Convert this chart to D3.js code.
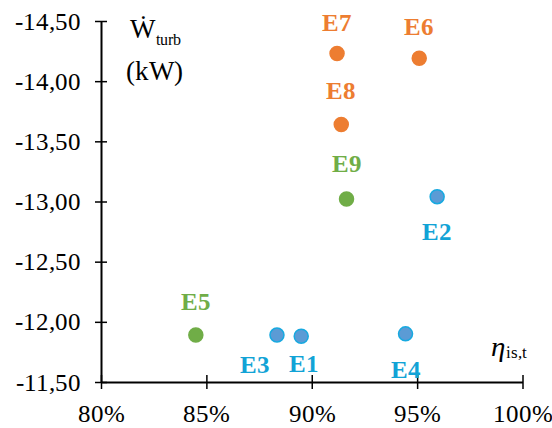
<!DOCTYPE html>
<html><head><meta charset="utf-8">
<script src="https://cdn.jsdelivr.net/npm/d3@7"></script>
<style>
@font-face{font-family:"CS";src:local("Liberation Serif"),local("LiberationSerif"),local("LiberationSerif-Regular");font-weight:400;font-style:normal}
@font-face{font-family:"CS";src:local("Liberation Serif Bold"),local("LiberationSerif-Bold");font-weight:700;font-style:normal}
@font-face{font-family:"CS";src:local("Liberation Serif Italic"),local("LiberationSerif-Italic");font-weight:400;font-style:italic}
body{margin:0;background:#fff}svg{display:block}
svg text, svg tspan{font-family:"CS","Liberation Serif","Times New Roman",serif !important}
</style>
</head><body><svg id="c" width="552" height="428"></svg>
<script>
const names = ["E1","E2","E3","E4","E5","E6","E7","E8","E9"];
const groups = ["blue","blue","blue","blue","green","orange","orange","orange","green"];
const efficiency = [89.5, 95.95, 88.35, 94.45, 84.5, 95.1, 91.2, 91.4, 91.65];
const power = [-11.88, -13.04, -11.89, -11.90, -11.89, -14.19, -14.23, -13.64, -13.02];
const xTicks = [80, 85, 90, 95, 100];
const yTicks = [-11.5, -12, -12.5, -13, -13.5, -14, -14.5];

// layout-only label offsets (px)
const labelDx = [3, 0, -22, 0, 0, 0, 0, 0, 0];
const labelDy = [36, 43, 38, 44, -25, -23, -22, -25, -27];

const fill = {blue:"#5B9BD5", green:"#70AD47", orange:"#ED7D31"};
const stroke = {blue:"#17A9E0", green:"#70AD47", orange:"#ED7D31"};
const lab = {blue:"#12A3D6", green:"#70AD47", orange:"#ED7D31"};
const FF = "CS, 'Liberation Serif', 'Times New Roman', serif";

const svg = d3.select("#c");
const x = d3.scaleLinear().domain([80,100]).range([101,522.5]);
const y = d3.scaleLinear().domain([-11.5,-14.5]).range([382,21]);

const fmtY = d => d3.format(".2f")(d).replace("\u2212", "-").replace(".", ",");
const yAxis = d3.axisLeft(y).tickValues(yTicks).tickFormat(fmtY).tickSize(0).tickPadding(20);
const gy = svg.append("g").attr("transform","translate(101,0)").call(yAxis);
gy.attr("font-family", null).attr("font-size", null);
gy.select(".domain").attr("stroke","#000").attr("stroke-width",2);
gy.selectAll("text").style("font-family",FF).style("font-size","25px").style("fill","#000");
gy.selectAll(".tick").append("line").attr("x1",-6).attr("x2",6).attr("stroke","#000").attr("stroke-width",1.5);

const xAxis = d3.axisBottom(x).tickValues(xTicks).tickFormat(d => d + "%").tickSize(0).tickPadding(22);
const gx = svg.append("g").attr("transform","translate(0,382)").call(xAxis);
gx.attr("font-family", null).attr("font-size", null);
gx.select(".domain").attr("stroke","#000").attr("stroke-width",2);
gx.selectAll("text").style("font-family",FF).style("font-size","25px").style("fill","#000");
gx.selectAll(".tick").append("line").attr("y1",-7).attr("y2",7).attr("stroke","#000").attr("stroke-width",1.5);

// titles
const t1 = svg.append("text").attr("x",130).attr("y",38).style("font-family",FF).style("font-size","27px");
t1.append("tspan").text("Ẇ");
t1.append("tspan").style("font-size","16px").attr("dy",7).attr("dx",1).text("turb");
svg.append("text").attr("x",126).attr("y",80).style("font-family",FF).style("font-size","27px").text("(kW)");
const t2 = svg.append("text").attr("x",491).attr("y",356).style("font-family",FF).style("font-size","29px");
t2.append("tspan").style("font-style","italic").text("η");
t2.append("tspan").style("font-size","17px").attr("dy",2).attr("dx",1).text("is,t");

const idx = d3.range(names.length);
svg.append("g").selectAll("circle").data(idx).join("circle")
  .attr("cx", i => x(efficiency[i])).attr("cy", i => y(power[i])).attr("r", 7)
  .attr("fill", i => fill[groups[i]]).attr("stroke", i => stroke[groups[i]]).attr("stroke-width", 1.5);

svg.append("g").selectAll("text").data(idx).join("text")
  .attr("x", i => x(efficiency[i]) + labelDx[i]).attr("y", i => y(power[i]) + labelDy[i])
  .attr("text-anchor","middle").style("font-family",FF).style("font-size","25px").style("font-weight","bold")
  .style("fill", i => lab[groups[i]]).text(i => names[i]);
</script></body></html>
